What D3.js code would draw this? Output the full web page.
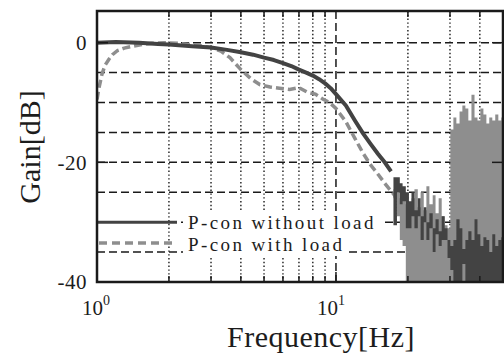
<!DOCTYPE html>
<html lang="en">
<head>
<meta charset="utf-8">
<title>Gain plot</title>
<script src="https://d3js.org/d3.v7.min.js"></script>
<style>
  body { margin: 0; background: #fff; }
  text { font-family: "Liberation Serif", "Times New Roman", Times, serif; fill: #1c1c1c; }
</style>
</head>
<body>
<div id="chart"></div>
<script>
// tick / grid values
var majorFreqs = [1, 10];
var minorFreqs = [2, 3, 4, 5, 6, 7, 8, 9, 20, 30, 40];
var gridGains = [-35, -30, -25, -20, -15, -10, -5, 0];
var yTickVals = [0, -20, -40];
var seriesNames = ["P-con without load", "P-con with load"];

// P-con without load (smooth part)
var freqNoLoad = [1.0, 1.2, 1.5, 1.8, 2.0, 2.5, 3.0, 3.5, 4.0, 4.5, 5.0, 5.5, 6.0, 6.5, 7.0, 7.5, 8.0, 8.5, 9.0, 9.5, 10, 11, 12, 13, 14, 15, 16, 17];
var gainNoLoad = [0, 0.1, 0, -0.2, -0.3, -0.6, -0.8, -1.2, -1.6, -2.0, -2.5, -2.9, -3.4, -3.9, -4.5, -5.0, -5.5, -6.1, -6.8, -7.6, -8.6, -10.5, -13, -15.2, -17, -18.6, -20, -21.5];

// P-con with load (smooth part)
var freqLoad = [1.0, 1.02, 1.05, 1.08, 1.12, 1.16, 1.22, 1.3, 1.4, 1.55, 1.7, 1.9, 2.2, 2.6, 3.0, 3.3, 3.6, 4.0, 4.4, 4.8, 5.3, 5.8, 6.4, 7.0, 7.6, 8.2, 8.8, 9.4, 10, 11, 12, 13, 14, 15, 16, 17, 18];
var gainLoad = [-9.5, -7.5, -5.2, -3.8, -2.8, -2.0, -1.3, -0.9, -0.6, -0.3, -0.1, 0, -0.1, -0.4, -0.8, -1.4, -2.5, -4.5, -6.0, -7.0, -7.4, -7.6, -7.8, -7.5, -8.3, -8.6, -9.4, -10.0, -11, -13.2, -16, -18.5, -20.5, -22, -23.5, -24.8, -26];

// noisy high-frequency part: low / high gain per frequency column
var noiseFreq = [17.4, 18.0, 18.5, 19.0, 19.6, 20.2, 20.7, 21.3, 22.0, 22.6, 23.3, 23.9, 24.6, 25.4, 26.1, 26.9, 27.7, 28.5, 29.3, 30.1, 31.0, 31.9, 32.9, 33.8, 34.8, 35.8, 36.9, 38.0, 39.1, 40.2, 41.4, 42.6, 43.8, 45.1, 46.4, 47.8, 49.2, 50];
var noiseLoadLow = [-26, -29, -33, -34, -40, -40, -40, -40, -40, -40, -40, -40, -40, -40, -40, -40, -40, -40, -40, -40, -40, -40, -40, -40, -40, -40, -40, -40, -40, -40, -40, -40, -40, -40, -40, -40, -40, -40];
var noiseLoadHigh = [-24.5, -24, -26, -25, -27, -28.5, -26, -24.5, -27.5, -25, -28, -24, -27, -25.5, -28.5, -26, -29, -30.5, -31, -14.5, -12.5, -13.5, -11.5, -10.5, -11, -13, -8.7, -12.5, -13, -11, -12, -13.5, -12.5, -13, -12, -13, -12.5, -12.5];
var noiseNoLoadLow = [-30.5, -25, -27, -26.5, -31, -31, -29, -31, -29, -33, -30, -33, -31, -35, -32, -34, -33, -33, -36, -38, -40, -40, -40, -37, -40, -40, -40, -40, -40, -40, -40, -40, -40, -40, -40, -40, -40, -40];
var noiseNoLoadHigh = [-22.5, -22.5, -23.5, -24, -25, -26.5, -25, -28, -26, -29, -27.5, -30, -28.5, -31, -29.5, -31.5, -29, -31, -33, -34, -33, -29.5, -31, -34.5, -33, -31.5, -33, -29.5, -32, -34, -32.5, -33, -35, -32, -34, -33, -32.5, -32.5];

(function() {
var w = 504;
var h = 355;
var pL = 97, pR = 503, pT = 11, pB = 282;

var xScale = d3.scaleLog().domain([1, 50]).range([pL, pR]);
var yScale = d3.scaleLinear().domain([-40, 5.3]).range([pB, pT]);

var darkCol = "#434343";
var grayCol = "#8e8e8e";

var svg = d3.select("#chart")
  .append("svg")
  .attr("width", w)
  .attr("height", h);

svg.append("defs").append("clipPath")
  .attr("id", "plotclip")
  .append("rect")
  .attr("x", pL).attr("y", pT)
  .attr("width", pR - pL).attr("height", pB - pT);

// grid
var grid = svg.append("g");
grid.selectAll(".hgrid")
  .data(gridGains)
  .enter()
  .append("line")
  .attr("x1", pL).attr("x2", pR)
  .attr("y1", d => yScale(d)).attr("y2", d => yScale(d))
  .attr("stroke", "#1a1a1a").attr("stroke-width", 1.5)
  .attr("stroke-dasharray", "8,4");

grid.selectAll(".vgrid")
  .data(minorFreqs)
  .enter()
  .append("line")
  .attr("x1", d => xScale(d)).attr("x2", d => xScale(d))
  .attr("y1", pT).attr("y2", pB)
  .attr("stroke", "#1a1a1a").attr("stroke-width", 1.4)
  .attr("stroke-dasharray", "1.4,2.4");

grid.append("line")
  .attr("x1", xScale(10)).attr("x2", xScale(10))
  .attr("y1", pT).attr("y2", pB)
  .attr("stroke", "#1a1a1a").attr("stroke-width", 1.5)
  .attr("stroke-dasharray", "8,4");

// legend text backgrounds sit over the grid
var legendRows = [
  { name: seriesNames[0], ly: -30, ty: 229, bw: 200 },
  { name: seriesNames[1], ly: -33.5, ty: 251, bw: 162 }
];
svg.selectAll(".lbg")
  .data(legendRows)
  .enter()
  .append("rect")
  .attr("x", 183)
  .attr("y", d => d.ty - 18)
  .attr("width", d => d.bw)
  .attr("height", 23)
  .attr("fill", "#fff");

// data
var plot = svg.append("g").attr("clip-path", "url(#plotclip)");

var line = d3.line()
  .x(d => xScale(d[0]))
  .y(d => yScale(d[1]));

var area = d3.area()
  .x(d => xScale(d[0]))
  .y0(d => yScale(d[1]))
  .y1(d => yScale(d[2]))
  .curve(d3.curveStepAfter);

var loadPts = freqLoad.map((f, i) => [f, gainLoad[i]]);
var noLoadPts = freqNoLoad.map((f, i) => [f, gainNoLoad[i]]);
var loadNoise = noiseFreq.map((f, i) => [f, noiseLoadLow[i], noiseLoadHigh[i]]);
var noLoadNoise = noiseFreq.map((f, i) => [f, noiseNoLoadLow[i], noiseNoLoadHigh[i]]);

plot.append("path")
  .datum(loadNoise)
  .attr("d", area)
  .attr("fill", grayCol);

plot.append("path")
  .datum(loadPts)
  .attr("d", line)
  .attr("fill", "none")
  .attr("stroke", grayCol)
  .attr("stroke-width", 3.5)
  .attr("stroke-dasharray", "8,4");

plot.append("path")
  .datum(noLoadNoise)
  .attr("d", area)
  .attr("fill", darkCol);

plot.append("path")
  .datum(noLoadPts)
  .attr("d", line)
  .attr("fill", "none")
  .attr("stroke", darkCol)
  .attr("stroke-width", 4)
  .attr("stroke-linejoin", "round");

// legend
svg.append("line")
  .attr("x1", pL).attr("x2", 177)
  .attr("y1", yScale(legendRows[0].ly)).attr("y2", yScale(legendRows[0].ly))
  .attr("stroke", darkCol).attr("stroke-width", 3);
svg.append("line")
  .attr("x1", pL + 2).attr("x2", 177)
  .attr("y1", yScale(legendRows[1].ly)).attr("y2", yScale(legendRows[1].ly))
  .attr("stroke", grayCol).attr("stroke-width", 3.5)
  .attr("stroke-dasharray", "8,5");

svg.selectAll(".ltext")
  .data(legendRows)
  .enter()
  .append("text")
  .attr("x", 188)
  .attr("y", d => d.ty)
  .attr("font-size", 19)
  .attr("letter-spacing", 2.4)
  .text(d => d.name);

// ticks
var tickG = svg.append("g").attr("stroke", "#1a1a1a").attr("stroke-width", 1.5);
tickG.selectAll(".mxb")
  .data(minorFreqs)
  .enter()
  .append("line")
  .attr("x1", d => xScale(d)).attr("x2", d => xScale(d))
  .attr("y1", pB).attr("y2", pB - 6);
tickG.selectAll(".mxt")
  .data(minorFreqs)
  .enter()
  .append("line")
  .attr("x1", d => xScale(d)).attr("x2", d => xScale(d))
  .attr("y1", pT).attr("y2", pT + 6);
tickG.selectAll(".Mxb")
  .data(majorFreqs)
  .enter()
  .append("line")
  .attr("x1", d => xScale(d)).attr("x2", d => xScale(d))
  .attr("y1", pB).attr("y2", pB - 10);
tickG.selectAll(".Myl")
  .data(yTickVals)
  .enter()
  .append("line")
  .attr("x1", pL).attr("x2", pL + 11)
  .attr("y1", d => yScale(d)).attr("y2", d => yScale(d));
tickG.selectAll(".Myr")
  .data(yTickVals)
  .enter()
  .append("line")
  .attr("x1", pR).attr("x2", pR - 11)
  .attr("y1", d => yScale(d)).attr("y2", d => yScale(d));

// frame
svg.append("rect")
  .attr("x", pL).attr("y", pT)
  .attr("width", pR - pL).attr("height", pB - pT)
  .attr("fill", "none")
  .attr("stroke", "#1a1a1a")
  .attr("stroke-width", 2.5);

// tick labels
svg.selectAll(".ylab")
  .data(yTickVals)
  .enter()
  .append("text")
  .attr("x", 87)
  .attr("y", d => yScale(d))
  .attr("dy", "0.35em")
  .attr("text-anchor", "end")
  .attr("font-size", 21)
  .attr("letter-spacing", 0.5)
  .text(d => d);

var xl = svg.selectAll(".xlab")
  .data(majorFreqs)
  .enter()
  .append("text")
  .attr("x", d => xScale(d) + (d == 1 ? -15 : -19))
  .attr("y", 315)
  .attr("font-size", 21);
xl.append("tspan").text("10");
xl.append("tspan")
  .attr("dy", -10)
  .attr("font-size", 14)
  .text(d => Math.round(Math.log10(d)));

// axis titles
svg.append("text")
  .attr("x", 321)
  .attr("y", 347)
  .attr("text-anchor", "middle")
  .attr("font-size", 30)
  .attr("letter-spacing", 0.5)
  .text("Frequency[Hz]");

svg.append("text")
  .attr("transform", "translate(40,147) rotate(-90)")
  .attr("text-anchor", "middle")
  .attr("font-size", 30)
  .text("Gain[dB]");
})();
</script>
</body>
</html>
